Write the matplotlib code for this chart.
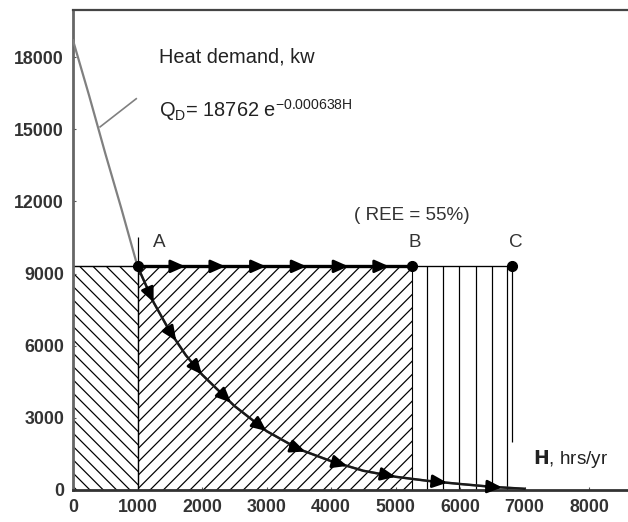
import numpy as np
import matplotlib
matplotlib.use("Agg")
import matplotlib.pyplot as plt

# heat demand curve (H in hrs/yr, Q in kw)
curve_h = [0, 250, 500, 750, 1000, 1250, 1500, 1750, 2000, 2500, 3000,
           3500, 4000, 4500, 5000, 5500, 6000, 6500, 7000]
curve_q = [18700, 16400, 14000, 11700, 9300, 7800, 6600, 5600, 4800, 3500,
           2450, 1700, 1200, 800, 550, 380, 250, 130, 50]

# operating points
pt_names = ["A", "B", "C"]
pt_h = [1000, 5250, 6800]
base_q = 9300

# hatched areas
area_left = [0, 1000]
area_right = [1000, 5250]
strip_lines = [5480, 5740, 5990, 6240, 6490, 6730]

# arrows
flat_arrows = [1740, 2360, 2990, 3620, 4270, 4900]
curve_arrows = [1250, 1600, 2000, 2450, 3000, 3600, 4250, 5000, 5800, 6650]

xticks = [0, 1000, 2000, 3000, 4000, 5000, 6000, 7000, 8000]
yticks = [0, 3000, 6000, 9000, 12000, 15000, 18000]

plt.rcParams['font.family'] = ['Liberation Sans', 'DejaVu Sans']
plt.rcParams['mathtext.fontset'] = 'custom'
plt.rcParams['mathtext.rm'] = 'Liberation Sans'
plt.rcParams['hatch.linewidth'] = 1.1

DPI = 80
fig = plt.figure(figsize=(628 / DPI, 522 / DPI), dpi=DPI)
ax = fig.add_axes([73 / 628, 32 / 522, 1 - 73 / 628 + 0.01, (490 - 10) / 522])
ax.set_xlim(0, 8700)
ax.set_ylim(0, 19960)

# hatched rectangles
ax.bar(area_left[0], base_q, width=area_left[1] - area_left[0], align='edge',
       fill=False, hatch='\\\\', edgecolor='black', linewidth=1.0, zorder=1)
ax.bar(area_right[0], base_q, width=area_right[1] - area_right[0], align='edge',
       fill=False, hatch='//', edgecolor='black', linewidth=1.0, zorder=1)
ax.vlines(strip_lines, 0, base_q, color='black', linewidth=1.1, zorder=1)
ax.vlines(pt_h[0], 0, 10500, color='black', linewidth=1.1, zorder=2)
ax.vlines(pt_h[2], 2000, base_q, color='black', linewidth=1.1, zorder=2)
ax.hlines(base_q, 0, pt_h[2], color='black', linewidth=1.2, zorder=2)

# curve
ax.plot(curve_h, curve_q, color='#808080', linewidth=2.0, zorder=3)
h = np.array(curve_h)
q = np.array(curve_q)
mask = h >= 1000
ax.plot(h[mask], q[mask], color='#1a1a1a', linewidth=2.2, zorder=3)
ax.hlines(base_q, pt_h[0], pt_h[1], color='black', linewidth=3.0, zorder=3)

ax.plot(pt_h, [base_q] * 3, 'o', color='black', markersize=9, zorder=5)

# arrow heads
arrow_kw = dict(arrowstyle='-|>,head_length=0.9,head_width=0.4', color='black',
                lw=2.5, mutation_scale=12, shrinkA=0, shrinkB=0)
for x in flat_arrows:
    ax.annotate('', xy=(x, base_q), xytext=(-16, 0), textcoords='offset pixels',
                arrowprops=arrow_kw, zorder=4)
for x in curve_arrows:
    y = np.interp(x, curve_h, curve_q)
    p1 = ax.transData.transform((x, y))
    p0 = ax.transData.transform((x - 60, np.interp(x - 60, curve_h, curve_q)))
    d = (p1 - p0) / np.hypot(*(p1 - p0))
    ax.annotate('', xy=(x, y), xytext=(-d[0] * 16, -d[1] * 16),
                textcoords='offset pixels', arrowprops=arrow_kw, zorder=4)

# texts
ax.text(1330, 18000, "Heat demand, kw", fontsize=18, color='#222222', va='center')
ax.text(1330, 15800, r"Q$_\mathregular{D}$= 18762 e$^\mathregular{-0.000638H}$",
        fontsize=18, color='#222222', va='center')
ax.plot([420, 980], [15100, 16270], color='#808080', linewidth=1.5)
ax.text(5250, 11400, "( REE = 55%)", fontsize=17, color='#333333',
        ha='center', va='center')
for name, x, dx in zip(pt_names, pt_h, [330, 50, 70]):
    ax.text(x + dx, 10300, name, fontsize=17, color='#333333',
            ha='center', va='center')
ax.text(7130, 1290, r"$\mathbf{H}$, hrs/yr", fontsize=17, color='#222222',
        va='center')

# axes style
ax.set_xticks(xticks)
ax.set_yticks(yticks)
ax.set_xticklabels([str(v) for v in xticks], fontsize=16, fontweight='bold',
                   color='#333333')
ax.set_yticklabels([str(v) for v in yticks], fontsize=16, fontweight='bold',
                   color='#333333')
ax.tick_params(direction='in', length=3, width=1, pad=8, colors='#555555',
               labelcolor='#333333')
ax.spines['right'].set_visible(False)
ax.spines['left'].set_linewidth(2.5)
ax.spines['left'].set_color('#666666')
ax.spines['bottom'].set_linewidth(2.5)
ax.spines['bottom'].set_color('#333333')
ax.spines['top'].set_linewidth(2.0)
ax.spines['top'].set_color('#444444')

fig.savefig("out.png", dpi=DPI)
